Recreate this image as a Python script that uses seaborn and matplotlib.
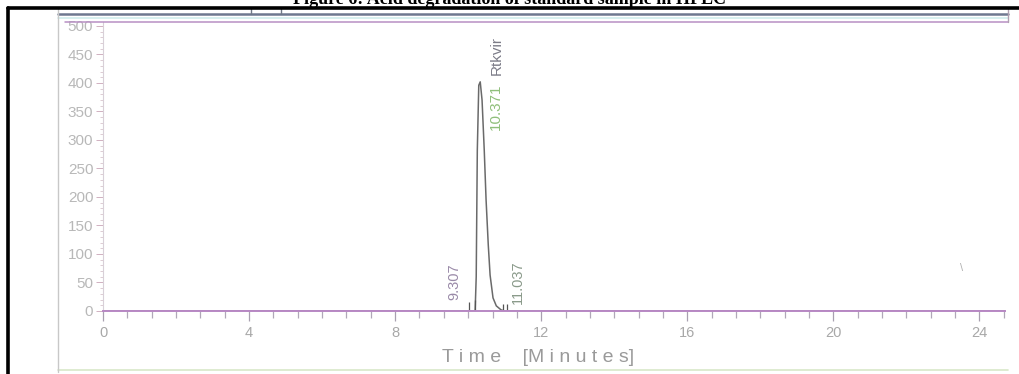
import numpy as np
import pandas as pd
import matplotlib
matplotlib.use("Agg")
import matplotlib.pyplot as plt
from matplotlib.lines import Line2D
from matplotlib.ticker import MultipleLocator
import seaborn as sns

# chromatogram trace (minutes, mAU)
time_min = [0.0, 9.9, 10.15, 10.19, 10.22, 10.25, 10.29, 10.33, 10.38, 10.44,
            10.49, 10.55, 10.60, 10.68, 10.77, 10.90, 11.0, 24.7]
signal = [0, 0, 0, 0, 60, 282, 396, 402, 370, 282,
          195, 116, 63, 23, 9, 2, 0, 0]

# integration event markers
event_time = [10.03, 10.20, 10.95, 11.05]
event_height = [16, 20, 12, 12]

y_ticks = [0, 50, 100, 150, 200, 250, 300, 350, 400, 450, 500]
x_ticks = [0, 4, 8, 12, 16, 20, 24]

peak_rt = 10.371
peak_name = "Rtkvir"
small_peaks = ["9.307", "11.037"]

sns.set_theme(style="white")
plt.rcParams['font.family'] = ['Liberation Sans', 'DejaVu Sans']

W, H = 1019, 374
fig = plt.figure(figsize=(W / 100, H / 100), dpi=100)
fig.patch.set_facecolor("white")

def fx(px):
    return px / W

def fy(py):
    return 1 - py / H

ax = fig.add_axes([fx(103), fy(311), fx(1005) - fx(103), fy(22) - fy(311)])

df = pd.DataFrame({"time": time_min, "signal": signal})
sns.lineplot(data=df, x="time", y="signal", ax=ax, color="#6a6a6a", lw=1.1)
ax.vlines(event_time, 0, event_height, color="#555555", lw=0.9)

ax.set_xlim(0, 24.7)
ax.set_ylim(0, 507)
ax.set_xticks(x_ticks)
ax.set_yticks(y_ticks)
ax.xaxis.set_minor_locator(MultipleLocator(2 / 3))
ax.yaxis.set_minor_locator(MultipleLocator(10))
ax.tick_params(axis="both", which="both", bottom=True, left=True)
ax.tick_params(axis="x", which="major", length=7, width=0.9, color="#a8a0b0",
               labelsize=10.5, labelcolor="#a8a8a8", pad=4, direction="out")
ax.tick_params(axis="x", which="minor", length=5, width=0.9, color="#b0a8b8",
               direction="out")
ax.tick_params(axis="y", which="major", length=5, width=0.7, color="#d0b0c0",
               labelsize=11, labelcolor="#b8b8b8", pad=2, direction="out")
ax.tick_params(axis="y", which="minor", length=2.5, width=0.6, color="#d8c4cc",
               direction="out")
ax.set_xlabel("")
ax.set_ylabel("")
for s in ["top", "right"]:
    ax.spines[s].set_visible(False)
ax.spines["left"].set_color("#d8d0d8")
ax.spines["left"].set_linewidth(0.8)
ax.spines["bottom"].set_color("#b888c4")
ax.spines["bottom"].set_linewidth(1.4)

# peak labels (rotated, like the integrator output)
ax.text(peak_rt + 0.4, 318, f"{peak_rt:.3f}", rotation=90, ha="center", va="bottom",
        fontsize=11, color="#8fbf7a")
ax.text(peak_rt + 0.4, 414, peak_name, rotation=90, ha="center", va="bottom",
        fontsize=11, color="#7c7c88")
ax.text(9.62, 19, small_peaks[0], rotation=90, ha="center", va="bottom",
        fontsize=10.5, color="#9a8aa8")
ax.text(11.37, 12, small_peaks[1], rotation=90, ha="center", va="bottom",
        fontsize=10.5, color="#8a9a8a")
ax.text(23.5, 75, "\\", ha="center", va="center", fontsize=8, color="#b0b0b0")

fig.text(fx(538), fy(357), "T i m e    [M i n u t e s]", ha="center", va="center",
         fontsize=14, color="#9a9a9a")

# software frame lines
def hline(py, x0, x1, color, lw):
    fig.add_artist(Line2D([fx(x0), fx(x1)], [fy(py), fy(py)], color=color, lw=lw))

def vline(px, y0, y1, color, lw):
    fig.add_artist(Line2D([fx(px), fx(px)], [fy(y0), fy(y1)], color=color, lw=lw))

hline(14, 58, 1008, "#6e7890", 1.8)
hline(17.5, 58, 1008, "#d0ecec", 1.2)
hline(22, 65, 1008, "#b890c4", 1.1)
hline(370, 58, 1008, "#d8e8c8", 1.2)
vline(58, 9, 372, "#c8c8c8", 1.0)
vline(1008, 9, 22, "#b0a0b0", 1.0)
vline(251, 9, 14, "#707888", 1.0)
vline(281, 9, 14, "#707888", 1.0)

# scan border
hline(8, 8, W, "black", 2.6)
vline(8, 8, H, "black", 2.6)

# cropped caption above the frame (cut by the scan edge, as in the original)
fig.text(fx(510), fy(-1), "Figure 6: Acid degradation of standard sample in HPLC",
         ha="center", va="center", fontsize=13, fontweight="bold",
         family=["Liberation Serif", "DejaVu Serif"], color="black")

fig.savefig("out.png", dpi=100, facecolor="white")
